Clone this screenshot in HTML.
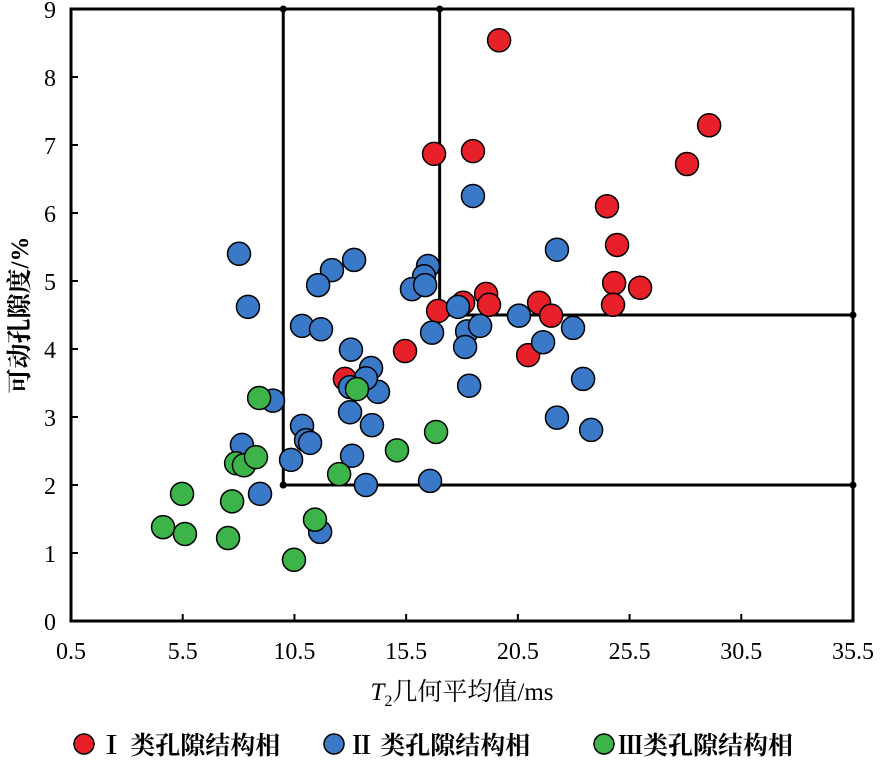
<!DOCTYPE html>
<html><head><meta charset="utf-8"><style>
body{margin:0;background:#fff;}
svg text{font-family:"Liberation Serif","Noto Serif CJK SC",serif;}
</style></head><body>
<svg id="chart" width="886" height="759" viewBox="0 0 886 759" xmlns="http://www.w3.org/2000/svg">
<g id="grid"></g><g id="marks"></g><g id="axes"></g>
<text x="462" y="700" text-anchor="middle" font-size="25"><tspan font-style="italic">T</tspan><tspan font-size="16" dy="6">2</tspan><tspan dy="-6" font-family="Noto Serif CJK SC, serif">几何平均值</tspan>/ms</text>
<text transform="translate(28,315) rotate(-90)" text-anchor="middle" font-size="25" font-weight="bold"><tspan font-family="Noto Serif CJK SC, serif">可动孔隙度</tspan>/%</text>
<g font-size="25" font-weight="bold">
<circle cx="84" cy="744" r="10" fill="#e8202a" stroke="#000" stroke-width="1.5"/>
<text x="99" y="754" font-family="Noto Serif CJK SC, serif">Ⅰ 类孔隙结构相</text>
<circle cx="334" cy="744" r="10" fill="#3a78c8" stroke="#000" stroke-width="1.5"/>
<text x="349" y="754" font-family="Noto Serif CJK SC, serif">Ⅱ 类孔隙结构相</text>
<circle cx="604" cy="744" r="10" fill="#3cb44a" stroke="#000" stroke-width="1.5"/>
<text x="618" y="754" font-family="Noto Serif CJK SC, serif">Ⅲ类孔隙结构相</text>
</g>
</svg>
<script>
const xTicks=[0.5,5.5,10.5,15.5,20.5,25.5,30.5,35.5];
const yTicks=[0,1,2,3,4,5,6,7,8,9];
const redX=[19.66,16.75,18.49,29.06,28.07,24.49,24.94,24.81,25.97,24.76,19.08,19.21,18.05,16.93,21.45,21.99,20.96,15.45,12.76];
const redY=[8.54,6.87,6.91,7.29,6.72,6.10,5.53,4.97,4.90,4.65,4.81,4.65,4.68,4.56,4.68,4.49,3.91,3.97,3.56];
const blueX=[8.02,8.42,12.18,13.17,11.56,10.84,11.69,16.48,16.30,15.76,16.35,16.66,17.82,18.23,18.14,18.81,18.49,20.55,22.25,22.97,21.63,18.32,23.42,22.25,23.78,13.03,13.93,14.24,13.70,12.99,12.99,13.97,13.08,13.70,16.57,10.84,11.02,11.20,10.35,8.96,8.15,9.54,11.65];
const blueY=[5.40,4.62,5.16,5.31,4.94,4.34,4.29,5.22,5.07,4.88,4.94,4.24,4.62,4.26,4.03,4.34,6.25,4.49,5.46,4.31,4.10,3.46,3.56,2.99,2.81,3.99,3.72,3.37,3.57,3.44,3.07,2.88,2.43,2.00,2.06,2.87,2.66,2.62,2.37,1.87,2.59,3.24,1.31];
const greenX=[4.62,5.47,5.60,7.53,7.71,7.89,8.24,8.78,8.92,10.48,11.42,12.50,13.30,15.09,16.84];
const greenY=[1.38,1.87,1.28,1.22,1.76,2.32,2.29,2.41,3.28,0.90,1.49,2.16,3.41,2.51,2.78];
const boxX=[10,17];const boxY=[2,4.5];
const X0=71,X1=853,Y0=621,Y1=9;
const sx=v=>X0+(v-0.5)/35*(X1-X0);
const sy=v=>Y0-v/9*(Y0-Y1);
const NS="http://www.w3.org/2000/svg";
function mk(t,a,p){const e=document.createElementNS(NS,t);for(const k in a)e.setAttribute(k,a[k]);p.appendChild(e);return e;}
const g=document.getElementById('grid'),m=document.getElementById('marks'),ax=document.getElementById('axes');
// partition lines
const segs=[[boxX[0],9,boxX[0],boxY[0]],[boxX[1],9,boxX[1],boxY[1]],[boxX[0],boxY[0],35.5,boxY[0]],[boxX[1],boxY[1],35.5,boxY[1]]];
segs.forEach((s,i)=>{
const l=mk('line',{x1:sx(s[0]),y1:sy(s[1]),x2:sx(s[2]),y2:sy(s[3]),stroke:'#000','stroke-width':3},g);


[[s[0],s[1]],[s[2],s[3]]].forEach(p=>{const c=mk('circle',{cx:sx(p[0]),cy:sy(p[1]),r:3.5,fill:'#000'},g);

});
});
function series(X,Y,col,name){X.forEach((x,i)=>{const c=mk('circle',{cx:sx(x),cy:sy(Y[i]),r:11.5,fill:col,stroke:'#000','stroke-width':1.5},m);

});}
series(redX,redY,'#e8202a','point-class1');
series(blueX,blueY,'#3a78c8','point-class2');
series(greenX,greenY,'#3cb44a','point-class3');
const f=mk('rect',{x:X0,y:Y1,width:X1-X0,height:Y0-Y1,fill:'none',stroke:'#000','stroke-width':3},ax);


xTicks.forEach(v=>{const x=sx(v);mk('line',{x1:x,y1:Y0,x2:x,y2:Y0-7,stroke:'#000','stroke-width':2},ax);
const t=mk('text',{x:x,y:659,'text-anchor':'middle','font-size':24},ax);t.textContent=v.toFixed(1);

});
yTicks.forEach(v=>{const y=sy(v);mk('line',{x1:X0,y1:y,x2:X0+7,y2:y,stroke:'#000','stroke-width':2},ax);
const t=mk('text',{x:56,y:y+9,'text-anchor':'end','font-size':24},ax);t.textContent=v;

});
</script>
</body></html>
